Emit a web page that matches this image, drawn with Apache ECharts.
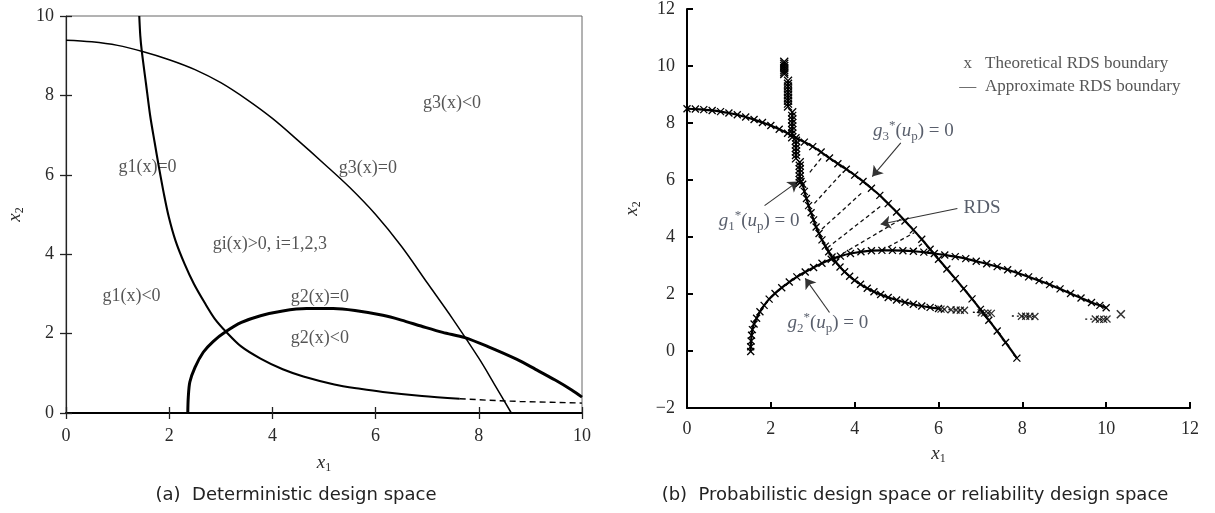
<!DOCTYPE html>
<html><head><meta charset="utf-8">
<script src="https://cdn.jsdelivr.net/npm/echarts@6/dist/echarts.min.js"></script>
<style>html,body{margin:0;padding:0;background:#fff}#c{width:1215px;height:513px}</style>
</head><body><div id="c"></div>
<script>
// ---------- Panel (a): deterministic design space ----------
const leftG3 = [[0,9.39],[0.5,9.35],[1.0,9.26],[1.5,9.1],[2.0,8.9],[2.5,8.65],[3.0,8.32],[3.5,7.9],[4.0,7.42],[4.5,6.86],[5.0,6.28],[5.5,5.68],[6.0,5.0],[6.5,4.2],[7.0,3.28],[7.5,2.36],[8.0,1.38],[8.3,0.73],[8.63,0]];
const leftG1 = [[1.42,10],[1.44,9.5],[1.47,9.1],[1.55,8.3],[1.63,7.5],[1.72,6.8],[1.8,6.2],[1.9,5.5],[1.99,4.95],[2.12,4.35],[2.3,3.75],[2.48,3.25],[2.7,2.75],[2.88,2.38],[3.1,2.05],[3.4,1.67],[3.77,1.37],[4.2,1.1],[4.6,0.92],[5.2,0.72],[5.7,0.61],[6.14,0.53],[6.9,0.43],[7.63,0.36]];
const leftG1Tail = [[7.63,0.36],[8.2,0.32],[8.8,0.29],[9.4,0.27],[10,0.25]];
const leftG2 = [[2.36,0],[2.37,0.4],[2.4,0.78],[2.5,1.15],[2.66,1.53],[2.85,1.8],[3.1,2.05],[3.4,2.28],[3.77,2.45],[4.2,2.57],[4.66,2.63],[5.18,2.63],[5.6,2.58],[6.14,2.46],[6.5,2.34],[6.88,2.19],[7.3,2.03],[7.73,1.9],[8.2,1.66],[8.74,1.35],[9.1,1.1],[9.48,0.83],[9.8,0.58],[10,0.4]];
const leftLabels = [['g3(x)<0',7.48,7.79],['g1(x)=0',1.58,6.2],['g3(x)=0',5.85,6.16],['gi(x)>0, i=1,2,3',3.95,4.24],['g1(x)<0',1.27,2.95],['g2(x)=0',4.92,2.92],['g2(x)<0',4.92,1.88]];

// ---------- Panel (b): probabilistic design space ----------
const rightG3 = [[0,8.5],[0.2,8.49],[0.4,8.47],[0.6,8.44],[0.8,8.4],[1.0,8.35],[1.2,8.29],[1.4,8.21],[1.6,8.12],[1.8,8.02],[2.0,7.91],[2.2,7.78],[2.4,7.64],[2.6,7.48],[2.8,7.33],[3.0,7.17],[3.2,6.98],[3.4,6.77],[3.6,6.57],[3.8,6.38],[4.0,6.17],[4.2,5.95],[4.4,5.71],[4.6,5.46],[4.8,5.17],[5.0,4.88],[5.2,4.56],[5.4,4.25],[5.6,3.92],[5.8,3.57],[6.0,3.22],[6.2,2.88],[6.4,2.54],[6.6,2.19],[6.8,1.83],[7.0,1.46],[7.2,1.08],[7.4,0.7],[7.6,0.3],[7.87,-0.25]];
const rightG2 = [[1.52,-0.02],[1.52,0.15],[1.53,0.35],[1.54,0.55],[1.56,0.75],[1.6,0.95],[1.66,1.15],[1.74,1.38],[1.84,1.6],[1.96,1.82],[2.1,2.02],[2.26,2.22],[2.44,2.42],[2.62,2.6],[2.82,2.77],[3.02,2.93],[3.22,3.08],[3.44,3.22],[3.66,3.33],[3.9,3.42],[4.15,3.48],[4.4,3.52],[4.65,3.53],[4.9,3.53],[5.15,3.52],[5.4,3.5],[5.65,3.47],[5.9,3.42],[6.15,3.37],[6.4,3.31],[6.65,3.24],[6.9,3.15],[7.15,3.06],[7.4,2.96],[7.65,2.85],[7.9,2.73],[8.15,2.6],[8.4,2.47],[8.65,2.33],[8.9,2.18],[9.15,2.02],[9.4,1.86],[9.65,1.7],[9.85,1.6],[10.0,1.52]];
const rightG1Clusters = [
  [[2.32,10.15],[2.32,10.08],[2.32,10.0],[2.32,9.92],[2.32,9.85],[2.32,9.78],[2.32,9.72]],
  [[2.41,9.48],[2.41,9.38],[2.41,9.28],[2.41,9.18],[2.41,9.08],[2.41,8.98],[2.41,8.88],[2.41,8.78],[2.41,8.68],[2.41,8.58]],
  [[2.51,8.38],[2.51,8.25],[2.51,8.12],[2.51,8.0],[2.51,7.88],[2.51,7.75],[2.51,7.62],[2.51,7.5]],
  [[2.6,7.38],[2.6,7.25],[2.6,7.12],[2.6,7.0],[2.6,6.88],[2.6,6.76]],
  [[2.69,6.62],[2.69,6.5],[2.69,6.38],[2.69,6.25],[2.69,6.12],[2.69,6.0],[2.69,5.9]]
];
const rightG1 = [[2.72,5.95],[2.76,5.85],[2.8,5.6],[2.85,5.35],[2.9,5.1],[2.96,4.85],[3.02,4.6],[3.08,4.35],[3.15,4.12],[3.22,3.9],[3.3,3.68],[3.38,3.48],[3.46,3.3],[3.55,3.12],[3.65,2.95],[3.76,2.78],[3.88,2.62],[4.0,2.48],[4.14,2.34],[4.3,2.2],[4.46,2.08],[4.62,1.98],[4.8,1.88],[5.0,1.79],[5.2,1.71],[5.4,1.64],[5.6,1.58],[5.8,1.53],[6.0,1.49]];
const rightG1TailGroups = [
  [[6.0,1.49],[6.06,1.47],[6.14,1.46],[6.3,1.45],[6.42,1.44],[6.52,1.43],[6.62,1.43]],
  [[6.82,1.36],[7.02,1.34],[7.1,1.33],[7.18,1.33],[7.26,1.32]],
  [[7.75,1.23],[7.98,1.22],[8.08,1.22],[8.18,1.22],[8.3,1.21]],
  [[9.5,1.12],[9.74,1.12],[9.84,1.11],[9.94,1.11],[10.02,1.12]]
];
const rightG1Single = [[10.35,1.29]];
const rdsHatch = [
  [[2.93,6.27],[3.25,6.85]],
  [[3.04,5.18],[3.72,6.28]],
  [[3.22,4.28],[4.17,5.55]],
  [[3.35,3.62],[4.62,5.08]],
  [[3.72,3.42],[5.1,4.62]],
  [[4.65,3.53],[5.42,4.15]],
  [[5.4,3.52],[5.64,3.8]]
];
const rightArrows = [
  [[5.1,7.3],[4.42,6.12]],
  [[6.45,5.0],[4.62,4.45]],
  [[1.85,5.1],[2.65,5.95]],
  [[3.4,1.35],[2.82,2.55]]
];
const rightLabels = [
  ['{g|g}{sub|3}{sup|*}{t|(}{g|u}{sub|p}{t|) = 0}',5.4,7.72],
  ['{t|RDS}',7.04,5.0],
  ['{g|g}{sub|1}{sup|*}{t|(}{g|u}{sub|p}{t|) = 0}',1.72,4.55],
  ['{g|g}{sub|2}{sup|*}{t|(}{g|u}{sub|p}{t|) = 0}',3.36,0.98]
];
const legendRows = [['x','Theoretical RDS boundary',10.07],['—','Approximate RDS boundary',9.27]];
const captions = [['(a)  Deterministic design space',296],['(b)  Probabilistic design space or reliability design space',915]];

// ---------- build ----------
const SERIF = '"Liberation Serif","DejaVu Serif",serif';
const TXT = '#2a2a2a';
const ANN = '#2e3646';
const XMARK = 'path://M0,0L10,10M10,0L0,10';
const richLab = {
  g:{fontFamily:SERIF,fontStyle:'italic',fontSize:19,color:ANN,lineHeight:24},
  t:{fontFamily:SERIF,fontSize:19,color:ANN,lineHeight:24},
  sub:{fontFamily:SERIF,fontSize:13,color:ANN,lineHeight:13,verticalAlign:'bottom'},
  sup:{fontFamily:SERIF,fontSize:13,color:ANN,lineHeight:13,verticalAlign:'top'}
};
const axName = (t, s) => '{i|' + t + '}{s|' + s + '}';
const richName = {
  i:{fontFamily:SERIF,fontStyle:'italic',fontSize:19,color:TXT,lineHeight:23},
  s:{fontFamily:SERIF,fontSize:12,color:TXT,lineHeight:12,verticalAlign:'bottom'}
};
const tickLab = {fontFamily:SERIF,fontSize:18,color:TXT};
const minus = v => String(v).replace('-', '\u2212');

const series = [];
// panel a curves
series.push({type:'line',xAxisIndex:0,yAxisIndex:0,data:leftG3,showSymbol:false,smooth:0.35,lineStyle:{color:'#000',width:1.5}});
series.push({type:'line',xAxisIndex:0,yAxisIndex:0,data:leftG1,showSymbol:false,smooth:0.3,lineStyle:{color:'#000',width:2.1}});
series.push({type:'line',xAxisIndex:0,yAxisIndex:0,data:leftG1Tail,showSymbol:false,lineStyle:{color:'#000',width:1.4,type:[6,4]}});
series.push({type:'line',xAxisIndex:0,yAxisIndex:0,data:leftG2,showSymbol:false,smooth:0.3,lineStyle:{color:'#000',width:3}});
series.push({type:'scatter',xAxisIndex:0,yAxisIndex:0,symbolSize:0,silent:true,
  data:leftLabels.map(l=>({value:[l[1],l[2]],label:{formatter:l[0]}})),
  label:{show:true,position:'inside',fontFamily:SERIF,fontSize:18,color:TXT}});

// panel b curves
const markStyle = {color:'#000',borderColor:'#000',borderWidth:1.3};
const curveB = (d) => ({type:'line',xAxisIndex:2,yAxisIndex:2,data:d,smooth:0.2,symbol:XMARK,symbolSize:7,showAllSymbol:true,
  lineStyle:{color:'#000',width:2.2},itemStyle:markStyle});
series.push(curveB(rightG3));
series.push(curveB(rightG2));
series.push(curveB(rightG1));
rightG1Clusters.forEach(c => series.push(Object.assign(curveB(c),{smooth:false,symbolSize:8,lineStyle:{color:'#000',width:2}})));
rightG1TailGroups.forEach(g => {
  series.push({type:'line',xAxisIndex:2,yAxisIndex:2,data:g,showSymbol:false,lineStyle:{color:'#111',width:1.4,type:[2,3]}});
  series.push({type:'scatter',xAxisIndex:2,yAxisIndex:2,data:g.slice(1),symbol:XMARK,symbolSize:7,itemStyle:markStyle});
});
series.push({type:'scatter',xAxisIndex:2,yAxisIndex:2,data:rightG1Single,symbol:XMARK,symbolSize:8,itemStyle:{color:'#000',borderColor:'#000',borderWidth:1.6}});
series.push({type:'lines',coordinateSystem:'cartesian2d',xAxisIndex:2,yAxisIndex:2,symbol:['none','none'],
  data:rdsHatch.map(h=>({coords:h})),lineStyle:{color:'#111',width:1.3,type:[4,3],opacity:1}});
series.push({type:'lines',coordinateSystem:'cartesian2d',xAxisIndex:2,yAxisIndex:2,symbol:['none','arrow'],symbolSize:10,
  data:rightArrows.map(a=>({coords:a})),lineStyle:{color:'#333',width:1.1,opacity:1}});
series.push({type:'scatter',xAxisIndex:2,yAxisIndex:2,symbolSize:0,silent:true,
  data:rightLabels.map(l=>({value:[l[1],l[2]],label:{formatter:l[0]}})),
  label:{show:true,position:'inside',rich:richLab}});
series.push({type:'scatter',xAxisIndex:2,yAxisIndex:2,symbolSize:0,silent:true,
  data:legendRows.map(r=>({value:[6.7,r[2]],label:{formatter:r[0]}})),
  label:{show:true,position:'inside',fontFamily:SERIF,fontSize:17,color:TXT}});
series.push({type:'scatter',xAxisIndex:2,yAxisIndex:2,symbolSize:0,silent:true,
  data:legendRows.map(r=>({value:[7.11,r[2]],label:{formatter:r[1]}})),
  label:{show:true,position:'right',distance:0,fontFamily:SERIF,fontSize:17,color:TXT}});

const option = {
  animation:false,
  backgroundColor:'#fff',
  grid:[
    {left:66,top:16,width:516,height:397,show:true,borderColor:'#666',borderWidth:1},
    {left:687,top:8,width:503,height:400}
  ],
  xAxis:[
    {type:'value',gridIndex:0,min:0,max:10,interval:2,position:'bottom',
      axisLine:{show:true,onZero:false,lineStyle:{color:'#000',width:2}},
      axisTick:{show:true,inside:true,length:6,lineStyle:{color:'#222',width:1.3}},
      axisLabel:Object.assign({margin:14},tickLab),splitLine:{show:false},
      name:axName('x','1'),nameLocation:'middle',nameGap:38,nameTextStyle:{rich:richName}},
    {type:'value',gridIndex:0,min:0,max:10,interval:2,position:'top',
      axisLine:{show:false},axisTick:{show:true,inside:true,length:6,lineStyle:{color:'#222',width:1.3}},
      axisLabel:{show:false},splitLine:{show:false}},
    {type:'value',gridIndex:1,min:0,max:12,interval:2,position:'bottom',
      axisLine:{show:true,onZero:false,lineStyle:{color:'#000',width:2}},
      axisTick:{show:true,inside:true,length:6,lineStyle:{color:'#000',width:2}},
      axisLabel:Object.assign({margin:12},tickLab),splitLine:{show:false},
      name:axName('x','1'),nameLocation:'middle',nameGap:34,nameTextStyle:{rich:richName}}
  ],
  yAxis:[
    {type:'value',gridIndex:0,min:0,max:10,interval:2,position:'left',
      axisLine:{show:true,onZero:false,lineStyle:{color:'#222',width:1.2}},
      axisTick:{show:true,inside:true,length:6,lineStyle:{color:'#222',width:1.3}},
      axisLabel:Object.assign({margin:12},tickLab),splitLine:{show:false},
      name:axName('x','2'),nameLocation:'middle',nameGap:40,nameRotate:90,nameTextStyle:{rich:richName}},
    {type:'value',gridIndex:0,min:0,max:10,interval:2,position:'right',
      axisLine:{show:false},axisTick:{show:true,inside:true,length:6,lineStyle:{color:'#222',width:1.3}},
      axisLabel:{show:false},splitLine:{show:false}},
    {type:'value',gridIndex:1,min:-2,max:12,interval:2,position:'left',
      axisLine:{show:true,onZero:false,lineStyle:{color:'#000',width:2}},
      axisTick:{show:true,inside:true,length:6,lineStyle:{color:'#000',width:2}},
      axisLabel:Object.assign({margin:12,formatter:minus},tickLab),splitLine:{show:false},
      name:axName('x','2'),nameLocation:'middle',nameGap:44,nameRotate:90,nameTextStyle:{rich:richName}}
  ],
  graphic:captions.map(c=>({type:'text',x:c[1],y:495,style:{text:c[0],x:0,y:0,align:'center',verticalAlign:'middle',
    font:'18px "DejaVu Sans", "Liberation Sans", sans-serif',fill:'#222'}})),
  series:series
};
const chart = echarts.init(document.getElementById('c'),null,{renderer:'canvas'});
chart.setOption(option);
</script></body></html>
